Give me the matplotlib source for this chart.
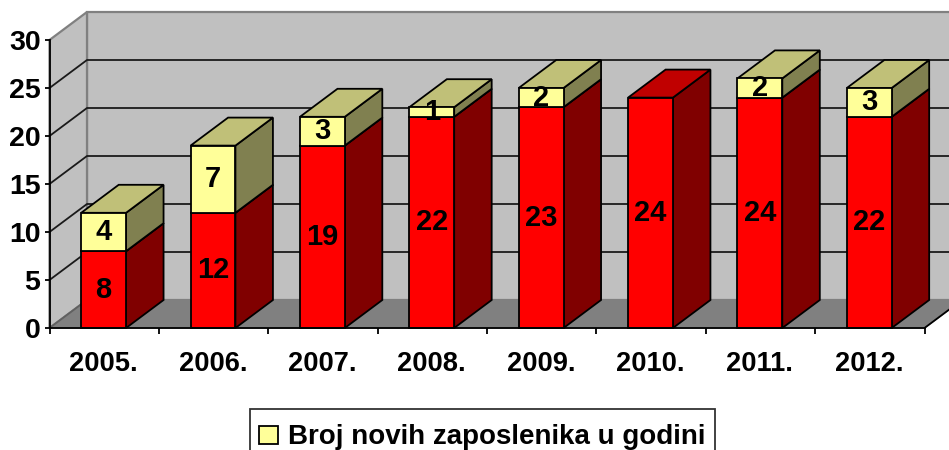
from matplotlib import pyplot as plt
from matplotlib.patches import Rectangle

years = ['2005.', '2006.', '2007.', '2008.', '2009.', '2010.', '2011.', '2012.']
stari = [8, 12, 19, 22, 23, 24, 24, 22]
novi = [4, 7, 3, 1, 2, 0, 2, 3]
y_ticks = [0, 5, 10, 15, 20, 25, 30]
legend_label = 'Broj novih zaposlenika u godini'

W, H = 949, 450
# 3D look: how far the back wall is shifted, in data units
DX = 37.5 / 109.4
DY = 28 / 9.6
BAR_W = 0.41
LW = 1.3

plt.rcParams['font.family'] = ['Liberation Sans', 'DejaVu Sans']
plt.rcParams['font.weight'] = 'bold'

fig = plt.figure(figsize=(W / 100, H / 100), dpi=100, facecolor='white')
ax = fig.add_axes([49.5 / W, 122 / H, 875 / W, 288 / H])
ax.set_xlim(0, len(years))
ax.set_ylim(0, 30)
ax.patch.set_visible(False)


def poly(xs, ys, face, edge='black', lw=LW, z=2):
    ax.fill(xs, ys, facecolor=face, edgecolor=edge, linewidth=lw, zorder=z,
            clip_on=False, joinstyle='miter')


def line(xs, ys, color='black', lw=LW, z=1.5):
    ax.plot(xs, ys, color=color, linewidth=lw, zorder=z, clip_on=False,
            solid_capstyle='butt')


# walls and floor
n = len(years)
poly([DX, n + DX, n + DX, DX], [DY, DY, 30 + DY, 30 + DY], '#C0C0C0', '#808080', 1.6, 1)
poly([0, DX, DX, 0], [0, DY, 30 + DY, 30], '#C0C0C0', '#808080', 1.6, 1)
poly([0, n, n + DX, DX], [0, 0, DY, DY], '#808080', '#808080', 1.0, 1.2)
line([n, n + DX], [0, DY])
line([0, DX], [0, DY], '#606060')

for t in y_ticks[1:-1]:
    line([0, DX, n + DX], [t, t + DY, t + DY], '#1a1a1a')


def bar_3d(i, bottom, height, front, top, side):
    x0, x1 = i + 0.495 - BAR_W / 2, i + 0.495 + BAR_W / 2
    y0, y1 = bottom, bottom + height
    poly([x1, x1 + DX, x1 + DX, x1], [y0, y0 + DY, y1 + DY, y1], side, z=3 + i)
    poly([x0, x1, x1 + DX, x0 + DX], [y1, y1, y1 + DY, y1 + DY], top, z=3 + i)
    return ax.bar(i + 0.495, height, BAR_W, bottom=bottom, color=front, edgecolor='black',
                  linewidth=LW, zorder=3.5 + i, clip_on=False)


handle = None
for i in range(n):
    bar_3d(i, 0, stari[i], '#FF0000', '#C00000', '#800000')
    if novi[i] > 0:
        b = bar_3d(i, stari[i], novi[i], '#FFFF99', '#C0C078', '#808050')
        handle = b
        ax.text(i + 0.495, stari[i] + novi[i] / 2, str(novi[i]), ha='center', va='center',
                fontsize=21, zorder=20, color='black')
    ax.text(i + 0.495, stari[i] / 2, str(stari[i]), ha='center', va='center',
            fontsize=21, zorder=20, color='black')

# axes
for s in ['top', 'right']:
    ax.spines[s].set_visible(False)
for s in ['left', 'bottom']:
    ax.spines[s].set_linewidth(LW)
    ax.spines[s].set_zorder(30)

ax.set_yticks(y_ticks)
ax.set_xticks(range(n + 1))
ax.set_xticklabels([])
ax.set_xticks([i + 0.495 for i in range(n)], minor=True)
ax.set_xticklabels(years, minor=True, fontsize=19.6, fontweight='bold')
ax.tick_params(axis='x', which='major', length=4, width=LW, zorder=30)
ax.tick_params(axis='x', which='minor', length=0, pad=16.5)
ax.tick_params(axis='y', length=3.5, width=LW, pad=3, labelsize=20.5)

# legend box runs off the bottom of the figure, so it is drawn apart from the entries
fig.add_artist(Rectangle((250 / W, 1 - 460 / H), 465 / W, 51 / H, transform=fig.transFigure,
                         facecolor='white', edgecolor='#333333', linewidth=LW, zorder=-1))
handle[0].set_label(legend_label)
leg = ax.legend(handles=[handle[0]], loc='upper left', bbox_to_anchor=(250 / W, 1 - 415 / H),
                bbox_transform=fig.transFigure, fontsize=20, frameon=False, borderaxespad=0,
                borderpad=0.34, handlelength=0.68, handleheight=0.62, handletextpad=0.36)
leg.set_zorder(40)

fig.savefig('out.png', dpi=100)
